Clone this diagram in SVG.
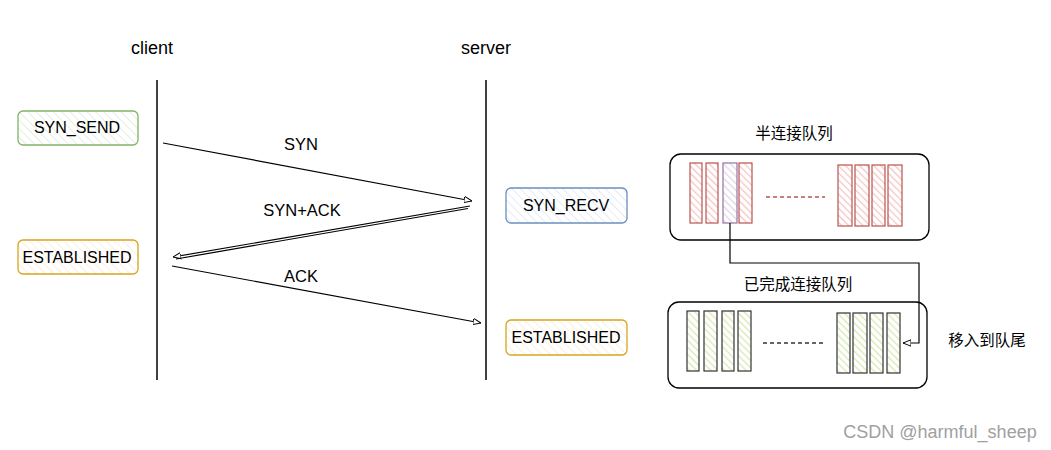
<svg xmlns="http://www.w3.org/2000/svg" width="1051" height="450" viewBox="0 0 1051 450">
<defs>
<pattern id="hg" patternUnits="userSpaceOnUse" width="6" height="6" patternTransform="rotate(-45)"><rect width="6" height="6" fill="#ffffff"/><line x1="0" y1="0" x2="0" y2="6" stroke="#e3efe2" stroke-width="2"/></pattern>
<pattern id="hy" patternUnits="userSpaceOnUse" width="6" height="6" patternTransform="rotate(-45)"><rect width="6" height="6" fill="#ffffff"/><line x1="0" y1="0" x2="0" y2="6" stroke="#fdeedd" stroke-width="2"/></pattern>
<pattern id="hb" patternUnits="userSpaceOnUse" width="6" height="6" patternTransform="rotate(-45)"><rect width="6" height="6" fill="#ffffff"/><line x1="0" y1="0" x2="0" y2="6" stroke="#e3ecf8" stroke-width="2"/></pattern>
<pattern id="hr" patternUnits="userSpaceOnUse" width="5" height="5" patternTransform="rotate(-45)"><rect width="5" height="5" fill="#ffffff"/><line x1="0" y1="0" x2="0" y2="5" stroke="#f5c4c2" stroke-width="2.5"/></pattern>
<pattern id="hp" patternUnits="userSpaceOnUse" width="5" height="5" patternTransform="rotate(-45)"><rect width="5" height="5" fill="#ffffff"/><line x1="0" y1="0" x2="0" y2="5" stroke="#e1d5e7" stroke-width="2.5"/></pattern>
<pattern id="hl" patternUnits="userSpaceOnUse" width="5" height="5" patternTransform="rotate(-45)"><rect width="5" height="5" fill="#ffffff"/><line x1="0" y1="0" x2="0" y2="5" stroke="#d6e8b0" stroke-width="2.5"/></pattern>
<marker id="ah" viewBox="0 0 10 10" refX="10" refY="5" markerWidth="8" markerHeight="8" orient="auto" markerUnits="userSpaceOnUse"><path d="M0,1 L10,5 L0,9 Z" fill="#ffffff" stroke="#000" stroke-width="1.2"/></marker>
<style>
text{font-family:"Liberation Sans",Arial,"Noto Sans CJK SC",sans-serif;fill:#000;}
.lbl{font-size:16px;text-anchor:middle;}
.cjk{font-family:"Noto Sans CJK SC","Liberation Sans",sans-serif;font-size:15.5px;text-anchor:middle;}
.life{stroke:#000;stroke-width:1.5;fill:none;}
.conn{stroke:#000;stroke-width:1.2;fill:none;}
.st{stroke-width:1.3;}
.red{fill:url(#hr);stroke:#b85450;stroke-width:1.2;}
.pur{fill:url(#hp);stroke:#9673a6;stroke-width:1.2;}
.grn{fill:url(#hl);stroke:#333;stroke-width:1.2;}
.q{fill:#fff;stroke:#000;stroke-width:1.3;}
</style>
</defs>
<text x="152" y="54" class="lbl" style="font-size:18px">client</text>
<text x="486" y="54" class="lbl" style="font-size:18px">server</text>
<line class="life" x1="157" y1="80" x2="157" y2="380"/>
<line class="life" x1="486" y1="80" x2="486" y2="380"/>

<g id="syn_send"><rect x="18" y="111" width="120" height="34" rx="5" fill="url(#hg)" stroke="#82b366" class="st"/><text x="77" y="133" class="lbl">SYN_SEND</text></g>
<g id="est_client"><rect x="18" y="240" width="120" height="34" rx="5" fill="url(#hy)" stroke="#d6a520" class="st"/><text x="77" y="263" class="lbl">ESTABLISHED</text></g>
<g id="syn_recv"><rect x="506" y="188" width="121" height="35" rx="5" fill="url(#hb)" stroke="#6c8ebf" class="st"/><text x="566" y="211" class="lbl">SYN_RECV</text></g>
<g id="est_server"><rect x="506" y="320" width="121" height="35" rx="5" fill="url(#hy)" stroke="#d6a520" class="st"/><text x="566" y="343" class="lbl">ESTABLISHED</text></g>

<g id="half_queue">
<text x="794" y="139" class="cjk">半连接队列</text>
<rect x="670" y="154" width="259" height="86" rx="11" class="q"/>
<rect x="690" y="163" width="12" height="60" class="red"/>
<rect x="706" y="163" width="12" height="60" class="red"/>
<rect x="723" y="163" width="14" height="60" class="pur"/>
<rect x="739" y="163" width="13" height="60" class="red"/>
<line x1="766" y1="197" x2="825" y2="197" stroke="#b85450" stroke-width="1.5" stroke-dasharray="4,3"/>
<rect x="838" y="165" width="14" height="61" class="red"/>
<rect x="855" y="165" width="14" height="61" class="red"/>
<rect x="872" y="165" width="13" height="61" class="red"/>
<rect x="888" y="165" width="14" height="61" class="red"/>
</g>

<g id="full_queue">
<text x="798" y="290" class="cjk">已完成连接队列</text>
<rect x="668" y="302" width="259" height="86" rx="11" class="q"/>
<rect x="687" y="311" width="12" height="60" class="grn"/>
<rect x="704" y="311" width="13" height="60" class="grn"/>
<rect x="722" y="311" width="12" height="60" class="grn"/>
<rect x="738" y="311" width="13" height="60" class="grn"/>
<line x1="763" y1="343" x2="823" y2="343" stroke="#333" stroke-width="1.5" stroke-dasharray="4,3"/>
<rect x="837" y="313" width="13" height="60" class="grn"/>
<rect x="853" y="313" width="14" height="60" class="grn"/>
<rect x="870" y="313" width="13" height="60" class="grn"/>
<rect x="887" y="313" width="13" height="60" class="grn"/>
</g>

<text x="987" y="346" class="cjk">移入到队尾</text>

<g id="connectors">
<line class="conn" x1="163" y1="143" x2="472" y2="201" marker-end="url(#ah)"/>
<line class="conn" x1="470" y1="206" x2="173" y2="257" marker-end="url(#ah)"/>
<line class="conn" x1="468" y1="208.5" x2="176" y2="259" stroke-width="0.8"/>
<line class="conn" x1="172" y1="266" x2="481" y2="323" marker-end="url(#ah)"/>
<polyline class="conn" points="730,223 730,263 919,263 919,343 903,343" marker-end="url(#ah)"/>
</g>
<text x="301" y="150" class="lbl" style="font-size:16.5px">SYN</text>
<text x="302" y="216" class="lbl" style="font-size:16.5px">SYN+ACK</text>
<text x="301" y="282" class="lbl" style="font-size:16.5px">ACK</text>

<text x="940" y="438" style="font-size:18px;text-anchor:middle;fill:#a0a0a0">CSDN @harmful_sheep</text>
</svg>
